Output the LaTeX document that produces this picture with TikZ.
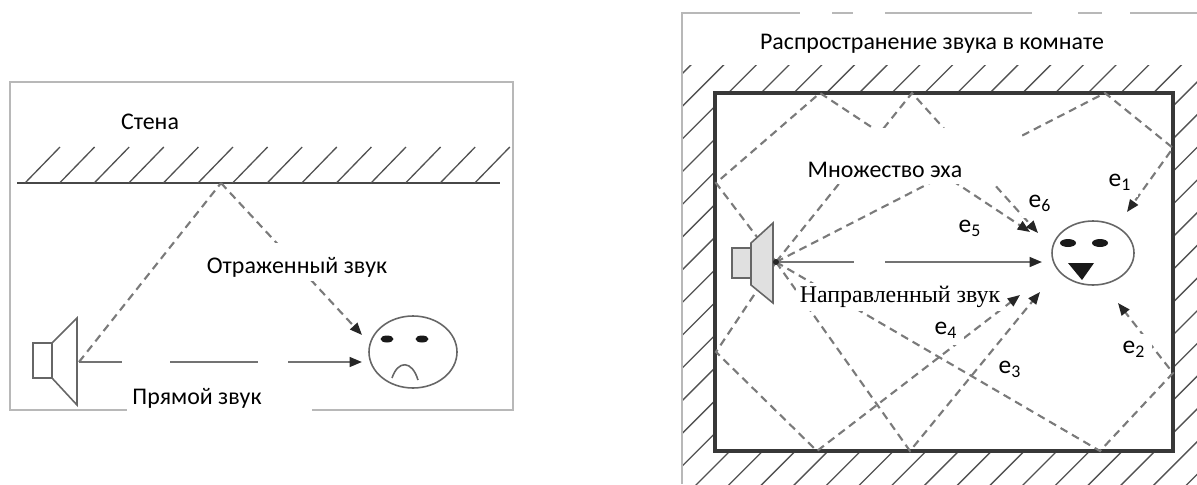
\documentclass[tikz,border=0pt]{standalone}
\usepackage{fontspec}
\setmainfont{Carlito}
\newfontfamily\serifcyr{Liberation Serif}
\usetikzlibrary{arrows.meta}
\tikzset{
  frameline/.style={draw=black!28, line width=1.1pt},
  wallline/.style={draw=black!72, line width=1.2pt},
  roomwall/.style={draw=black!78, line width=1.9pt},
  hatch/.style={draw=black!68, line width=0.75pt},
  echo/.style={draw=black!52, line width=1.2pt, dash pattern=on 4.5pt off 3pt},
  echoarrow/.style={echo, -{Triangle[length=7pt, width=5.5pt, color=black!85]}},
  direct/.style={draw=black!55, line width=1.2pt, -{Triangle[length=7pt, width=5.5pt, color=black!85]}},
  speaker/.style={draw=black!60, line width=0.9pt, fill=white},
  headline/.style={draw=black!60, line width=0.9pt},
  eye/.style={fill=black!90},
  mask/.style={fill=white},
  lbl/.style={font=\fontsize{13.6}{16}\selectfont, inner sep=1pt},
  serif/.style={font=\serifcyr\fontsize{13.6}{16}\selectfont},
  tag/.style={font=\fontsize{14.5}{16}\selectfont, fill=white, inner sep=4pt}
}

\begin{document}
\begin{tikzpicture}[x=0.02cm, y=-0.02cm]
  \useasboundingbox (0,0) rectangle (1197,484);

  % ---- left: one reflection from a wall ----
  \draw[frameline] (10,82) rectangle (513,410);
  \draw[wallline] (17,183) -- (500,183);
  \foreach \i in {0,...,13}
    \draw[hatch] ({25+34.6*\i},183) -- ({60+34.6*\i},147);

  \coordinate (srcL) at (79,362);
  \coordinate (hitL) at (221,183);
  \coordinate (echoL) at (362,335);
  \coordinate (earL) at (362,362);

  \draw[echo] (srcL) -- (hitL);
  \draw[echoarrow] (hitL) -- (echoL);
  \draw[direct] (srcL) -- (earL);

  % white patches under the texts
  \fill[mask] (200,243) rectangle (485,281);
  \fill[mask] (122,355) rectangle (170,369);
  \fill[mask] (258,355) rectangle (288,369);
  \fill[mask] (127,384) rectangle (312,414);

  % loudspeaker
  \draw[speaker] (33,343) rectangle (52,378);
  \draw[speaker] (52,343) -- (77,318) -- (77,405) -- (52,378) -- cycle;

  % listener
  \draw[headline] (413,352) ellipse [x radius=44, y radius=36];
  \fill[eye] (387,339) ellipse [x radius=6.5, y radius=3.5];
  \fill[eye] (422,339) ellipse [x radius=6.5, y radius=3.5];
  \draw[headline] (392,378) .. controls (398,360) and (412,360) .. (418,380);

  \node[lbl] (wall) at (150,122) {Стена};
  \node[lbl] (reflected) at (297,267) {Отраженный звук};
  \node[lbl] (directL) at (197,398) {Прямой звук};

  % ---- right: echoes inside a room ----
  \draw[frameline] (682,484) -- (682,13) -- (1197,13);
  \fill[mask] (800,8) rectangle (832,18);
  \fill[mask] (853,8) rectangle (885,18);
  \fill[mask] (1032,8) rectangle (1078,18);
  \fill[mask] (1102,8) rectangle (1130,18);

  \begin{scope}
    \clip (683,65) rectangle (1197,484);
    \foreach \i in {0,...,28}
      \draw[hatch] ({755.9+32.7*\i-500},500) -- ({755.9+32.7*\i},0);
  \end{scope}
  \fill[white] (715,93) rectangle (1173,451);
  \draw[roomwall] (715,93) rectangle (1173,451);

  \coordinate (src) at (776,262);
  % points where the rays hit the walls
  \coordinate (t1) at (912,93);
  \coordinate (t2) at (1105,93);
  \coordinate (t3) at (820,93);
  \coordinate (l1) at (716,183);
  \coordinate (l2) at (716,352);
  \coordinate (b1) at (817,451);
  \coordinate (b2) at (910,451);
  \coordinate (b3) at (1100,451);
  \coordinate (r1) at (1173,148);
  \coordinate (r2) at (1173,373);
  % arrow ends next to the listener
  \coordinate (f1) at (1127,212);
  \coordinate (f2) at (1118,303);
  \coordinate (f3) at (1040,292);
  \coordinate (f4) at (1020,295);
  \coordinate (f6a) at (1030,232);
  \coordinate (f6b) at (1038,233);
  \coordinate (earR) at (1042,262);

  \draw[echoarrow] (src) -- (t1) -- (f6b);
  \draw[echoarrow] (src) -- (t2) -- (r1) -- (f1);
  \draw[echoarrow] (src) -- (l1) -- (t3) -- (f6a);
  \draw[echoarrow] (src) -- (l2) -- (b1) -- (f4);
  \draw[echoarrow] (src) -- (b2) -- (f3);
  \draw[echoarrow] (src) -- (b3) -- (r2) -- (f2);
  \draw[direct] (src) -- (earR);

  \fill[mask] (805,128) rectangle (1022,184);
  \fill[mask] (854,255) rectangle (885,269);

  % loudspeaker
  \draw[speaker, fill=black!12] (732,248) rectangle (751,278);
  \draw[speaker, fill=black!12] (751,243) -- (773,223) -- (773,303) -- (751,285) -- cycle;
  \fill[black!85] (src) circle [radius=3];

  % listener
  \draw[headline] (1093,253) ellipse [x radius=41, y radius=32];
  \fill[eye] (1068,243) ellipse [x radius=8, y radius=4];
  \fill[eye] (1100,243) ellipse [x radius=8, y radius=4];
  \fill[eye] (1068,263) -- (1094,263) -- (1082,280) -- cycle;

  \node[lbl] (title) at (932,44) {Распространение звука в комнате};
  \node[lbl] (many) at (885,170) {Множество эха};
  \node[serif, fill=white, inner sep=2pt] (directR) at (900,297) {Направленный звук};
  \node[tag] (e1) at (1120,182) {e\textsubscript{1}};
  \node[tag] (e2) at (1134,349) {e\textsubscript{2}};
  \node[tag] (e3) at (1010,369) {e\textsubscript{3}};
  \node[tag] (e4) at (946,330) {e\textsubscript{4}};
  \node[tag] (e5) at (970,228) {e\textsubscript{5}};
  \node[tag] (e6) at (1040,203) {e\textsubscript{6}};
\end{tikzpicture}
\end{document}
